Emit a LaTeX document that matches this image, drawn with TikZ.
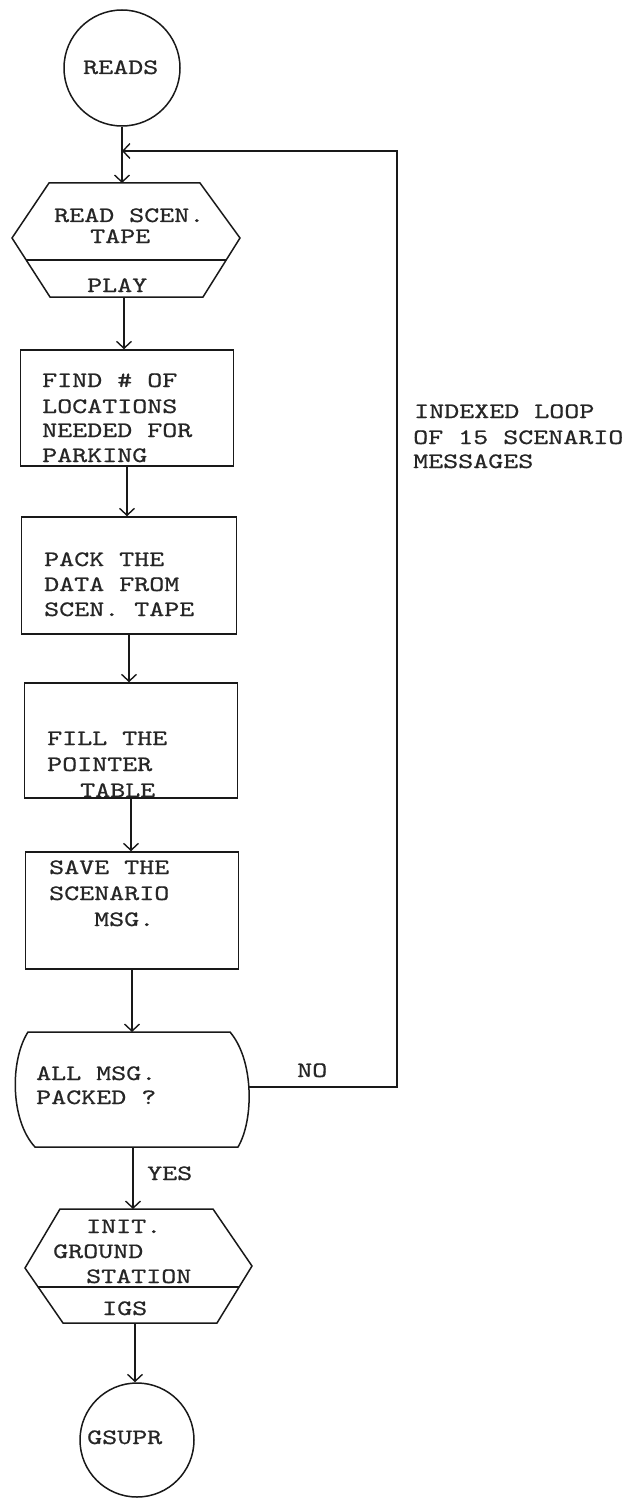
\documentclass[tikz,border=0pt]{standalone}
\usepackage{fontspec}
\newfontfamily\typew{lmmono10-regular.otf}[FakeStretch=1.3,FakeBold=0.7]
\usetikzlibrary{arrows.meta,calc}

\begin{document}
\begin{tikzpicture}[x=1pt,y=-1pt,
  ink/.style={draw=black!90, line width=1.5pt},
  proc/.style={ink, rectangle, inner sep=0pt},
  term/.style={ink, circle, inner sep=0pt},
  frame/.style={inner sep=0pt, outer sep=0pt},
  flow/.style={ink, -{Straight Barb[length=7pt,width=15pt,line width=1.4pt]}},
  lbl/.style={anchor=base west, inner sep=0pt, text=black!85, font={\typew\fontsize{22pt}{25pt}\selectfont}},
]
\useasboundingbox (0,0) rectangle (633,1498);
\fill[white] (0,0) rectangle (633,1498);

% start terminator
\node[term, minimum size=116pt] (reads) at (122,68) {};
\node[lbl] (treads) at (83,74) {READS};

% read scenario tape (predefined process, hexagon with lower band)
\node[frame, minimum width=228pt, minimum height=114pt] (scen) at (124,240) {};
\draw[ink] (49,183) -- (200,183) -- (240,238) -- (203,297) -- (50,297) -- (12,238) -- cycle;
\draw[ink] (26,260) -- (226,260);
\node[lbl] (tscen1) at (54,222) {READ SCEN.};
\node[lbl] (tscen2) at (90,243) {TAPE};
\node[lbl] (tplay) at (87,292) {PLAY};

% processing boxes
\node[proc, minimum width=213pt, minimum height=116pt] (find) at (127,408) {};
\node[lbl] (tfind1) at (42,387) {FIND \# OF};
\node[lbl] (tfind2) at (42,413) {LOCATIONS};
\node[lbl] (tfind3) at (42,437) {NEEDED FOR};
\node[lbl] (tfind4) at (42,462) {PARKING};

\node[proc, minimum width=215pt, minimum height=117pt] (pack) at (129,575.5) {};
\node[lbl] (tpack1) at (44,566) {PACK THE};
\node[lbl] (tpack2) at (44,591) {DATA FROM};
\node[lbl] (tpack3) at (44,616) {SCEN. TAPE};

\node[proc, minimum width=213pt, minimum height=115pt] (fill) at (131,740.5) {};
\node[lbl] (tfill1) at (47,745) {FILL THE};
\node[lbl] (tfill2) at (47,771) {POINTER};
\node[lbl] (tfill3) at (80,797) {TABLE};

\node[proc, minimum width=213pt, minimum height=117pt] (save) at (132,910.5) {};
\node[lbl] (tsave1) at (49,874) {SAVE THE};
\node[lbl] (tsave2) at (49,900) {SCENARIO};
\node[lbl] (tsave3) at (94,926) {MSG.};

% decision
\node[frame, minimum width=232pt, minimum height=115pt] (dec) at (133,1089.5) {};
\draw[ink] (28,1032) -- (230,1032)
  .. controls (254,1060) and (254,1120) .. (238,1147)
  -- (35,1147)
  .. controls (10,1120) and (10,1060) .. (28,1032) -- cycle;
\node[lbl] (tdec1) at (36,1080) {ALL MSG.};
\node[lbl] (tdec2) at (36,1104) {PACKED ?};

% initialise ground station
\node[frame, minimum width=227pt, minimum height=114pt] (igs) at (135,1266) {};
\draw[ink] (60,1209) -- (213,1209) -- (252,1266) -- (217,1323) -- (63,1323) -- (25,1268) -- cycle;
\draw[ink] (38,1287) -- (239,1287);
\node[lbl] (tigs1) at (86,1233) {INIT.};
\node[lbl] (tigs2) at (53,1258) {GROUND};
\node[lbl] (tigs3) at (86,1283) {STATION};
\node[lbl] (tigs4) at (102,1315) {IGS};

% end terminator
\node[term, minimum size=114pt] (gsupr) at (137,1440) {};
\node[lbl] (tgsupr) at (87,1444) {GSUPR};

% main flow
\draw[flow] (reads.south) -- (reads.south |- scen.north);
\draw[flow] (scen.south) -- (scen.south |- find.north);
\draw[flow] (find.south) -- (find.south |- pack.north);
\draw[flow] (pack.south) -- (pack.south |- fill.north);
\draw[flow] (fill.south) -- (fill.south |- save.north);
\draw[flow] (save.south) -- (save.south |- dec.north);
\draw[flow] (dec.south) -- (dec.south |- igs.north);
\draw[flow] (igs.south) -- (igs.south |- gsupr.north);

% loop back
\coordinate (loopin) at (122,151);
\coordinate (turn) at (397,1087);
\draw[flow] (dec.east |- turn) -- (turn) |- (loopin);

\node[lbl] (tno) at (297,1077) {NO};
\node[lbl] (tyes) at (147,1180) {YES};
\node[lbl] (tloop1) at (414,418) {INDEXED LOOP};
\node[lbl] (tloop2) at (413,444) {OF 15 SCENARIO};
\node[lbl] (tloop3) at (413,468) {MESSAGES};
\end{tikzpicture}
\end{document}
